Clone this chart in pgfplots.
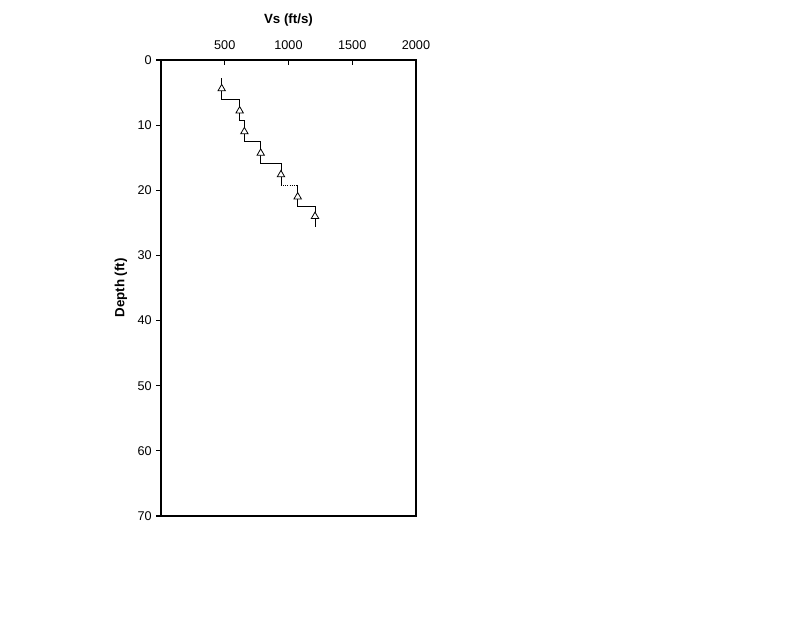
\documentclass[border=0pt]{standalone}
\usepackage{fontspec}
\setmainfont{Liberation Sans}
\usepackage{pgfplots}
\pgfplotsset{compat=1.18}
\begin{document}
\begin{tikzpicture}
\begin{axis}[
  scale only axis,
  width=191.25pt, height=342pt,
  xmin=0, xmax=2000, ymin=0, ymax=70,
  y dir=reverse,
  xticklabel pos=upper,
  xtick pos=upper,
  ytick pos=lower,
  xtick={500,1000,1500,2000},
  ytick={0,10,20,30,40,50,60,70},
  xlabel={\textbf{Vs (ft/s)}},
  ylabel={\textbf{Depth (ft)}},
  ylabel shift=1pt,
  xticklabel shift=4pt,
  xlabel shift=4pt,
  axis line style={line width=1.3pt},
  tick style={black, line width=0.8pt},
  major tick length=3.5pt,
  ytick align=outside,
  xtick align=inside,
  tick label style={font=\fontsize{9.5}{11}\selectfont},
  label style={font=\fontsize{10}{12}\selectfont},
  /pgf/number format/assume math mode=true,
  /pgf/number format/set thousands separator={},
]
\addplot[black, line width=0.6pt] coordinates {
 (476,2.8) (476,6.0) (617,6.0) (617,9.2) (654,9.2) (654,12.5)
 (782,12.5) (782,15.9) (941,15.9) (941,19.2)};
\addplot[black, line width=0.6pt, densely dotted] coordinates {(941,19.2) (1072,19.2)};
\addplot[black, line width=0.6pt] coordinates {
 (1072,19.2) (1072,22.5) (1208,22.5) (1208,25.6)};
\addplot[only marks, mark=triangle*, mark size=3.2pt, mark options={fill=white, draw=black, line width=0.6pt}] coordinates {
 (476,4.4) (617,7.8) (654,11.0) (782,14.3) (941,17.6) (1072,21.0) (1208,24.0)};
\end{axis}
\path[use as bounding box] (-120.75pt,-76.5pt) rectangle (479.25pt,387pt);
\end{tikzpicture}
\end{document}
